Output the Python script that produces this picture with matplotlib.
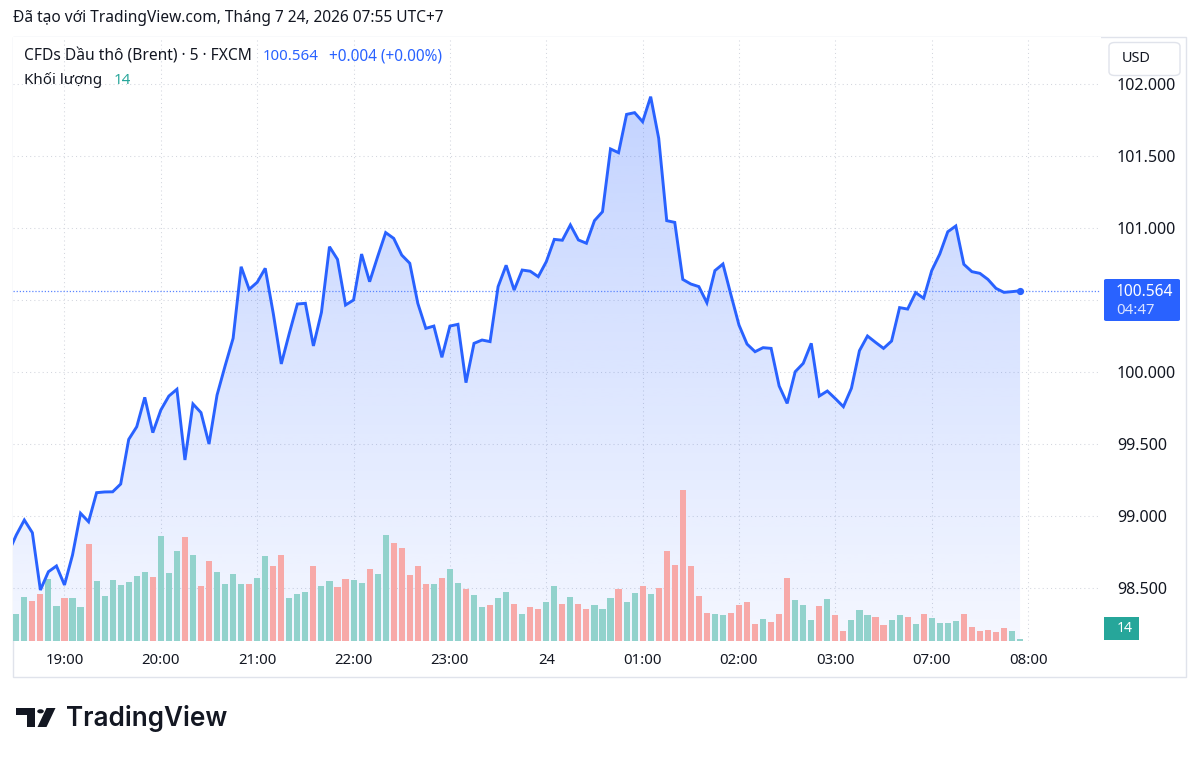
import numpy as np
import matplotlib
matplotlib.use("Agg")
import matplotlib.pyplot as plt
from matplotlib.patches import Rectangle, FancyBboxPatch, Polygon, Circle

plt.rcParams['font.family'] = ['Noto Sans', 'DejaVu Sans']

# ---------------- data ----------------
title_text = "Đã tạo với TradingView.com, Tháng 7 24, 2026 07:55 UTC+7"
symbol_text = "CFDs Dầu thô (Brent) · 5 · FXCM"
last_text = "100.564"
change_text = "+0.004 (+0.00%)"
volume_label = "Khối lượng"
last_volume_text = "14"
countdown_text = "04:47"

# close of the 5-minute bar just before the visible range (line enters from the left edge)
lead_in_close = 98.743
closes = [
    98.868, 98.972, 98.884, 98.486, 98.613, 98.653, 98.521, 98.729, 99.019, 98.960,
    99.162, 99.167, 99.168, 99.222, 99.532, 99.620, 99.824, 99.579, 99.736, 99.833,
    99.880, 99.389, 99.778, 99.718, 99.500, 99.840, 100.042, 100.234, 100.731, 100.574,
    100.623, 100.720, 100.407, 100.056, 100.269, 100.472, 100.477, 100.181, 100.414, 100.870,
    100.782, 100.465, 100.500, 100.819, 100.627, 100.801, 100.968, 100.928, 100.812, 100.755,
    100.477, 100.303, 100.319, 100.102, 100.319, 100.331, 99.926, 100.199, 100.222, 100.211,
    100.593, 100.741, 100.569, 100.708, 100.700, 100.662, 100.766, 100.921, 100.915, 101.021,
    100.917, 100.894, 101.051, 101.113, 101.549, 101.523, 101.789, 101.801, 101.738, 101.912,
    101.623, 101.051, 101.039, 100.643, 100.611, 100.593, 100.481, 100.704, 100.750, 100.535,
    100.326, 100.194, 100.141, 100.169, 100.164, 99.903, 99.782, 100.002, 100.060, 100.199,
    99.833, 99.868, 99.815, 99.759, 99.887, 100.148, 100.250, 100.206, 100.164, 100.215,
    100.447, 100.437, 100.551, 100.512, 100.704, 100.819, 100.974, 101.014, 100.748, 100.697,
    100.685, 100.643, 100.581, 100.553, 100.558, 100.564,
]
volumes = [
    224, 363, 328, 383, 511, 285, 355, 355, 279, 795,
    490, 371, 498, 459, 481, 533, 563, 525, 861, 555,
    738, 853, 708, 451, 656, 563, 467, 547, 467, 467,
    519, 695, 613, 708, 350, 385, 402, 613, 451, 490,
    443, 511, 503, 473, 590, 547, 869, 804, 760, 541,
    613, 465, 465, 517, 590, 473, 429, 377, 279, 293,
    350, 399, 306, 219, 279, 265, 322, 451, 301, 363,
    306, 265, 293, 265, 355, 429, 320, 394, 451, 385,
    437, 738, 621, 1236, 613, 369, 232, 219, 211, 227,
    298, 320, 137, 180, 158, 219, 517, 336, 293, 172,
    285, 342, 211, 84, 172, 254, 211, 197, 131, 172,
    211, 197, 137, 219, 189, 145, 145, 164, 219, 117,
    84, 93, 71, 107, 80, 14,
]
time_tick_pos = [6, 18, 30, 42, 54, 66, 78, 90, 102, 114, 126]
time_tick_labels = ["19:00", "20:00", "21:00", "22:00", "23:00", "24",
                    "01:00", "02:00", "03:00", "07:00", "08:00"]
price_ticks = [98.5, 99.0, 99.5, 100.0, 100.5, 101.0, 101.5, 102.0]

# ---------------- style ----------------
W, H = 1200, 758
LINE = '#2962ff'
UP = '#92d2cc'
DOWN = '#f7a9a8'
TEXT = '#131722'
GRID = '#d3d6de'
BORDER = '#e0e3eb'

fig = plt.figure(figsize=(W / 100, H / 100), dpi=100)
fig.patch.set_facecolor('white')
renderer = fig.canvas.get_renderer()

def fx(x):
    return x / W

def fy(y):
    return 1 - y / H

def size_for(s, width, **kw):
    t = fig.text(0, 0, s, fontsize=10, **kw)
    w = t.get_window_extent(renderer=renderer).width
    t.remove()
    return 10 * width / w

def fit_text(x, y, s, width, ha='left', va='center', **kw):
    t = fig.text(fx(x), fy(y), s, ha=ha, va=va, fontsize=10, **kw)
    w = t.get_window_extent(renderer=renderer).width
    t.set_fontsize(10 * width / w)
    return t

# plot area in pixels (top-left origin)
PL, PR, PT, PB = 13, 1101, 37, 641
rect = [fx(PL), fy(PB), (PR - PL) / W, (PB - PT) / H]

n = len(closes)
idx = np.arange(n)
x_line = np.arange(-1, n)
y_line = np.array([lead_in_close] + closes)

# y mapping: 100.0 at pixel 372, 144 px per 1.0
y0 = 100 - (PB - 372) / 144
y1 = 100 + (372 - PT) / 144
x0 = (PL - 16.3) / 8.03
x1 = (PR - 16.3) / 8.03

# ---- base axes: grid + gradient fill ----
ax = fig.add_axes(rect)
ax.set_zorder(1)
ax.set_facecolor('white')
for s in ax.spines.values():
    s.set_visible(False)

grad = np.linspace(0, 1, 256)
rgba = np.zeros((256, 1, 4))
rgba[:, 0, 0] = 41 / 255
rgba[:, 0, 1] = 98 / 255
rgba[:, 0, 2] = 1.0
rgba[:, 0, 3] = 0.05 + 0.23 * grad
im = ax.imshow(rgba, extent=[x_line[0], x_line[-1], y0, max(closes)],
               origin='lower', aspect='auto', zorder=1, interpolation='bilinear')
poly = ax.fill_between(x_line, y_line, y0, facecolor='none', edgecolor='none')
im.set_clip_path(poly.get_paths()[0], transform=ax.transData)

ytick_size = size_for("100.000", 59)
xtick_size = size_for("19:00", 38)

ax.set_xlim(x0, x1)
ax.set_ylim(y0, y1)
ax.set_yticks(price_ticks)
ax.set_yticklabels([('' if abs(p - 100.5) < 1e-9 else f"{p:.3f}") for p in price_ticks])
ax.yaxis.tick_right()
ax.set_xticks(time_tick_pos)
ax.set_xticklabels(time_tick_labels)
ax.tick_params(axis='y', length=0, pad=11.5, labelsize=ytick_size, labelcolor=TEXT)
ax.tick_params(axis='x', length=0, pad=8.5, labelsize=xtick_size, labelcolor=TEXT)
ax.grid(True, color=GRID, linestyle=(0, (1, 3)), linewidth=0.75)
ax.set_axisbelow(True)

# ---- volume axes ----
axv = fig.add_axes(rect, sharex=ax)
axv.set_zorder(2)
axv.patch.set_visible(False)
axv.axis('off')
vol_colors = [UP if c >= p else DOWN for c, p in zip(closes, [lead_in_close] + closes[:-1])]
axv.bar(idx, volumes, width=0.76, color=vol_colors, linewidth=0)
axv.set_ylim(0, max(volumes) * 604 / 150.7)
axv.set_xlim(x0, x1)

# ---- line axes ----
axl = fig.add_axes(rect, sharex=ax, sharey=ax)
axl.set_zorder(3)
axl.patch.set_visible(False)
axl.axis('off')
axl.axhline(closes[-1], color='#5b85ff', linestyle=(0, (1, 1.5)), linewidth=0.9)
axl.plot(x_line, y_line, color=LINE, linewidth=2.1, solid_joinstyle='miter', solid_capstyle='butt')
axl.plot([idx[-1]], [closes[-1]], 'o', color=LINE, markersize=5.2, markeredgewidth=0)
axl.set_xlim(x0, x1)
axl.set_ylim(y0, y1)

# ---- chart frame ----
fig.patches.append(Rectangle((fx(12.5), fy(677)), (1186 - 12.5) / W, (677 - 37) / H,
                             transform=fig.transFigure, fill=False,
                             edgecolor=BORDER, linewidth=1.0, zorder=0))

# ---- USD box ----
fig.patches.append(FancyBboxPatch((fx(1109), fy(75.5)), (1180 - 1109) / W, (75.5 - 42.5) / H,
                                  boxstyle="round,pad=0,rounding_size=0.005",
                                  transform=fig.transFigure, facecolor='white',
                                  edgecolor=BORDER, linewidth=1.0, zorder=5))
fit_text(1136, 58.5, "USD", 29, ha='center', color=TEXT, zorder=6)

# ---- last price label ----
fig.patches.append(FancyBboxPatch((fx(1104), fy(321)), (1180 - 1104) / W, (321 - 279) / H,
                                  boxstyle="round,pad=0,rounding_size=0.002",
                                  transform=fig.transFigure, facecolor=LINE,
                                  edgecolor='none', zorder=5))
fit_text(1116, 291.5, last_text, 57, color='white', zorder=6)
fit_text(1116, 310.5, countdown_text, 38, color='#dbe4ff', zorder=6)

# ---- last volume label ----
fig.patches.append(Rectangle((fx(1104), fy(640)), (1139 - 1104) / W, (640 - 617) / H,
                             transform=fig.transFigure, facecolor='#26a69a',
                             edgecolor='none', zorder=5))
fit_text(1125, 628.5, last_volume_text, 16, ha='center', color='white', zorder=6,
         fontweight='bold')

# ---- header texts ----
fit_text(13, 18.5, title_text, 429, color=TEXT)
fit_text(24, 56.5, symbol_text, 228, color=TEXT)
fit_text(263, 56.5, last_text, 55, color=LINE)
fit_text(329, 56.5, change_text, 113, color=LINE)
vt = fit_text(24, 80.5, volume_label, 78, color=TEXT)
fig.text(fx(114), fy(80.5), last_volume_text, ha='left', va='center',
         fontsize=vt.get_fontsize(), color='#26a69a')

# ---- TradingView logo ----
logo_col = '#131722'
icon = Polygon([(fx(16), fy(708)), (fx(35), fy(708)), (fx(35), fy(727)), (fx(27.5), fy(727)),
                (fx(27.5), fy(714.5)), (fx(16), fy(714.5))], closed=True,
               transform=fig.transFigure, facecolor=logo_col, edgecolor='none')
fig.patches.append(icon)
fig.patches.append(Circle((fx(40.5), fy(711.3)), 3.3 / W, transform=fig.transFigure,
                          facecolor=logo_col, edgecolor='none'))
fig.patches.append(Polygon([(fx(46.5), fy(708)), (fx(55.5), fy(708)), (fx(46.5), fy(727)),
                            (fx(37.5), fy(727))], closed=True, transform=fig.transFigure,
                           facecolor=logo_col, edgecolor='none'))
fit_text(66, 718, "TradingView", 161, color=logo_col, fontweight='semibold',
         family=['Inter', 'Noto Sans', 'DejaVu Sans'])

fig.savefig('out.png', dpi=100, facecolor='white')
